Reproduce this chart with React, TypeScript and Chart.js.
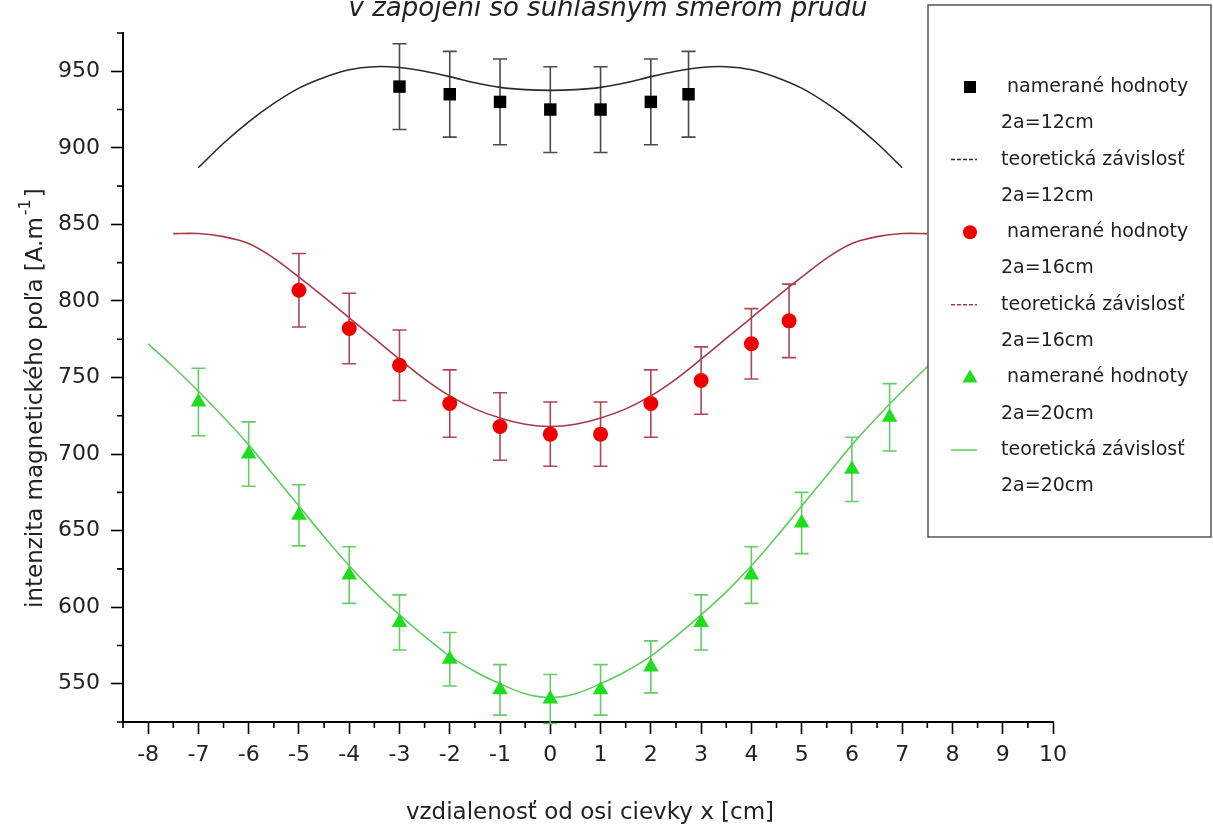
import React, { useEffect, useRef } from 'react';
import { Chart, registerables } from 'chart.js';

Chart.register(...registerables);

const FONT = "'DejaVu Sans', sans-serif";

// ---- text ----
const TITLE = 'v zapojení so súhlasným smerom prúdu';
const X_TITLE = 'vzdialenosť od osi cievky x [cm]';
const Y_TITLE_MAIN = 'intenzita magnetického poľa [A.m';
const Y_TITLE_SUP = '-1';
const Y_TITLE_END = ']';
const LEGEND_MEASURED = ' namerané hodnoty';
const LEGEND_THEORY = 'teoretická závislosť';
const SERIES_NAMES = ['2a=12cm', '2a=16cm', '2a=20cm'];

// ---- axis ticks ----
const X_TICKS = [-8, -7, -6, -5, -4, -3, -2, -1, 0, 1, 2, 3, 4, 5, 6, 7, 8, 9, 10];
const Y_TICKS = [550, 600, 650, 700, 750, 800, 850, 900, 950];

// ---- measured values ----
const x12 = [-3, -2, -1, 0, 1, 2, 2.75];
const h12 = [940, 935, 930, 925, 925, 930, 935];
const e12 = [28, 28, 28, 28, 28, 28, 28];

const x16 = [-5, -4, -3, -2, -1, 0, 1, 2, 3, 4, 4.75];
const h16 = [807, 782, 758, 733, 718, 713, 713, 733, 748, 772, 787];
const e16 = [24, 23, 23, 22, 22, 21, 21, 22, 22, 23, 24];

const x20 = [-7, -6, -5, -4, -3, -2, -1, 0, 1, 2, 3, 4, 5, 6, 6.75];
const h20 = [734, 700, 660, 621, 590, 566, 546, 540, 546, 561, 590, 621, 655, 690, 724];
const e20 = [22, 21, 20, 18.5, 18, 17.5, 16.5, 16, 16.5, 17, 18, 18.5, 20, 21, 22];

// ---- theoretical curves ----
const xt12 = [-7, -6.5, -6, -5.5, -5, -4.5, -4, -3.5, -3, -2.5, -2, -1.5, -1, -0.5, 0,
  0.5, 1, 1.5, 2, 2.5, 3, 3.5, 4, 4.5, 5, 5.5, 6, 6.5, 7];
const ht12 = [887, 903, 917, 929, 939, 946, 951, 953, 952.5, 950, 946.5, 942.5, 939.5, 938, 937.5,
  938, 939.5, 942.5, 946.5, 950, 952.5, 953, 951, 946, 939, 929, 917, 903, 887];

const xt16 = [-7.5, -7, -6.5, -6, -5.5, -5, -4.5, -4, -3.5, -3, -2.5, -2, -1.5, -1, -0.5, 0,
  0.5, 1, 1.5, 2, 2.5, 3, 3.5, 4, 4.5, 5, 5.5, 6, 6.5, 7, 7.5];
const ht16 = [844, 844, 842, 837.5, 828, 815.5, 802.5, 789, 775.5, 762, 749, 738, 729.5, 723.5, 719.5, 718,
  719.5, 723.5, 729.5, 738, 749, 762, 775.5, 789, 802.5, 815.5, 828, 837.5, 842, 844, 844];

const xt20 = [-8, -7.5, -7, -6.5, -6, -5.5, -5, -4.5, -4, -3.5, -3, -2.5, -2, -1.5, -1, -0.5, 0,
  0.5, 1, 1.5, 2, 2.5, 3, 3.5, 4, 4.5, 5, 5.5, 6, 6.5, 7, 7.5, 8];
const ht20 = [772, 757, 741, 724, 706, 686, 666, 646, 627, 610, 595, 581, 568, 558, 550, 543.5, 541,
  543.5, 550, 558, 568, 581, 595, 610, 627, 646, 666, 686, 706, 724, 741, 757, 772];

// ---- styles ----
const MARKER_COLORS = ['#000000', '#ee0000', '#1fdc1f'];
const LINE_COLORS = ['#2b2b2b', '#a83a48', '#5ccc5c'];
const ERR_COLORS = ['#4a4a4a', '#b04652', '#66cc66'];
const MARKER_STYLES = ['rect', 'circle', 'triangle'];
const MARKER_RADII = [8.8, 7.5, 9];

const pts = (xs: number[], ys: number[]) => xs.map((x, i) => ({ x, y: ys[i] }));

const errorBarsPlugin = {
  id: 'errorBars',
  beforeDatasetsDraw(chart: any) {
    const { ctx } = chart;
    const yScale = chart.scales.y;
    chart.data.datasets.forEach((ds: any, i: number) => {
      if (!ds.errors) return;
      const meta = chart.getDatasetMeta(i);
      ctx.save();
      ctx.strokeStyle = ds.errorColor;
      ctx.lineWidth = 1.6;
      meta.data.forEach((el: any, j: number) => {
        const v = ds.data[j].y;
        const px = el.x;
        const top = yScale.getPixelForValue(v + ds.errors[j]);
        const bot = yScale.getPixelForValue(v - ds.errors[j]);
        ctx.beginPath();
        ctx.moveTo(px, top);
        ctx.lineTo(px, bot);
        ctx.moveTo(px - 7, top);
        ctx.lineTo(px + 7, top);
        ctx.moveTo(px - 7, bot);
        ctx.lineTo(px + 7, bot);
        ctx.stroke();
      });
      ctx.restore();
    });
  },
};

function drawMarker(ctx: CanvasRenderingContext2D, style: string, x: number, y: number, color: string) {
  ctx.fillStyle = color;
  ctx.beginPath();
  if (style === 'rect') {
    ctx.rect(x - 6, y - 6, 12, 12);
  } else if (style === 'circle') {
    ctx.arc(x, y, 7, 0, Math.PI * 2);
  } else {
    ctx.moveTo(x, y - 8);
    ctx.lineTo(x + 7.5, y + 5);
    ctx.lineTo(x - 7.5, y + 5);
    ctx.closePath();
  }
  ctx.fill();
}

const decorPlugin = {
  id: 'decor',
  beforeDatasetsDraw(chart: any) {
    const { ctx } = chart;
    const xs = chart.scales.x;
    const ys = chart.scales.y;
    const ca = chart.chartArea;
    ctx.save();
    ctx.strokeStyle = '#000';
    ctx.lineWidth = 1.6;
    ctx.beginPath();
    for (let v = xs.min; v <= xs.max + 1e-9; v += 0.5) {
      if (Math.abs(v - Math.round(v)) < 1e-6) continue;
      const px = xs.getPixelForValue(v);
      ctx.moveTo(px, ca.bottom);
      ctx.lineTo(px, ca.bottom + 6);
    }
    for (let v = ys.min; v <= ys.max + 1e-9; v += 25) {
      if (Math.abs(v % 50) < 1e-6) continue;
      const py = ys.getPixelForValue(v);
      ctx.moveTo(ca.left, py);
      ctx.lineTo(ca.left - 6, py);
    }
    ctx.stroke();
    ctx.restore();
  },
  afterDraw(chart: any) {
    const { ctx } = chart;
    ctx.save();
    ctx.fillStyle = '#222';
    // title (partly cut off at the top)
    ctx.font = `italic 26px ${FONT}`;
    ctx.textAlign = 'center';
    ctx.textBaseline = 'alphabetic';
    ctx.fillText(TITLE, 608, 16);
    // x title
    ctx.font = `23px ${FONT}`;
    ctx.fillText(X_TITLE, 590, 819);
    // y title
    ctx.save();
    ctx.translate(42, 608);
    ctx.rotate(-Math.PI / 2);
    ctx.textAlign = 'left';
    ctx.font = `23px ${FONT}`;
    ctx.fillText(Y_TITLE_MAIN, 0, 0);
    const w1 = ctx.measureText(Y_TITLE_MAIN).width;
    ctx.font = `16px ${FONT}`;
    ctx.fillText(Y_TITLE_SUP, w1 + 2, -12);
    const w2 = ctx.measureText(Y_TITLE_SUP).width;
    ctx.font = `23px ${FONT}`;
    ctx.fillText(Y_TITLE_END, w1 + w2 + 4, 0);
    ctx.restore();

    // legend box
    const bx = 928, by = 5, bw = 283, bh = 532;
    ctx.fillStyle = '#ffffff';
    ctx.fillRect(bx, by, bw, bh);
    ctx.strokeStyle = '#555';
    ctx.lineWidth = 1.5;
    ctx.strokeRect(bx, by, bw, bh);

    const rowY0 = 87;
    const rowStep = 36.3;
    ctx.font = `19px ${FONT}`;
    ctx.textAlign = 'left';
    ctx.textBaseline = 'middle';
    for (let s = 0; s < 3; s++) {
      const base = rowY0 + s * 4 * rowStep;
      drawMarker(ctx, MARKER_STYLES[s], 970, base, MARKER_COLORS[s]);
      ctx.fillStyle = '#222';
      ctx.fillText(LEGEND_MEASURED, 1001, base);
      ctx.fillText(SERIES_NAMES[s], 1001, base + rowStep);
      const ly = base + 2 * rowStep;
      ctx.strokeStyle = LINE_COLORS[s];
      ctx.lineWidth = 1.5;
      ctx.setLineDash(s < 2 ? [4, 2] : []);
      ctx.beginPath();
      ctx.moveTo(951, ly);
      ctx.lineTo(977, ly);
      ctx.stroke();
      ctx.setLineDash([]);
      ctx.fillStyle = '#222';
      ctx.fillText(LEGEND_THEORY, 1001, ly);
      ctx.fillText(SERIES_NAMES[s], 1001, base + 3 * rowStep);
    }
    ctx.restore();
  },
};

export default function App() {
  const ref = useRef<HTMLCanvasElement | null>(null);
  useEffect(() => {
    if (!ref.current) return;
    const measured = [
      { xs: x12, ys: h12, es: e12 },
      { xs: x16, ys: h16, es: e16 },
      { xs: x20, ys: h20, es: e20 },
    ];
    const theory = [
      { xs: xt12, ys: ht12 },
      { xs: xt16, ys: ht16 },
      { xs: xt20, ys: ht20 },
    ];
    const datasets: any[] = [];
    measured.forEach((m, i) => {
      datasets.push({
        label: LEGEND_MEASURED + ' ' + SERIES_NAMES[i],
        data: pts(m.xs, m.ys),
        errors: m.es,
        errorColor: ERR_COLORS[i],
        showLine: false,
        pointStyle: MARKER_STYLES[i],
        pointRadius: MARKER_RADII[i],
        pointBackgroundColor: MARKER_COLORS[i],
        pointBorderColor: MARKER_COLORS[i],
        pointBorderWidth: 0,
      });
    });
    theory.forEach((t, i) => {
      datasets.push({
        label: LEGEND_THEORY + ' ' + SERIES_NAMES[i],
        data: pts(t.xs, t.ys),
        showLine: true,
        pointRadius: 0,
        borderColor: LINE_COLORS[i],
        borderWidth: 1.6,
        tension: 0.35,
        fill: false,
      });
    });

    const chart = new Chart(ref.current, {
      type: 'scatter',
      data: { datasets },
      plugins: [errorBarsPlugin, decorPlugin],
      options: {
        animation: false,
        responsive: true,
        maintainAspectRatio: false,
        layout: { padding: { left: 0, top: 33, right: 160, bottom: 0 } },
        plugins: { legend: { display: false }, tooltip: { enabled: false }, title: { display: false } },
        scales: {
          x: {
            type: 'linear',
            min: -8.5,
            max: 10,
            afterFit: (s: any) => { s.height = 105; },
            afterBuildTicks: (s: any) => { s.ticks = X_TICKS.map((v) => ({ value: v })); },
            border: { display: true, color: '#000', width: 2 },
            grid: { drawOnChartArea: false, drawTicks: true, tickLength: 12, tickColor: '#000', tickWidth: 1.6 },
            ticks: {
              autoSkip: false,
              maxRotation: 0,
              padding: 8,
              color: '#222',
              font: { family: FONT, size: 22 },
            },
          },
          y: {
            type: 'linear',
            min: 525,
            max: 975,
            afterFit: (s: any) => { s.width = 123; },
            afterBuildTicks: (s: any) => { s.ticks = Y_TICKS.map((v) => ({ value: v })); },
            border: { display: true, color: '#000', width: 2 },
            grid: { drawOnChartArea: false, drawTicks: true, tickLength: 12, tickColor: '#000', tickWidth: 1.6 },
            ticks: {
              autoSkip: false,
              padding: 11,
              color: '#222',
              font: { family: FONT, size: 22 },
            },
          },
        },
      } as any,
    });
    return () => chart.destroy();
  }, []);

  return (
    <div style={{ position: 'fixed', left: 0, top: 0, width: 1213, height: 827, background: '#fff' }}>
      <canvas ref={ref} />
    </div>
  );
}
